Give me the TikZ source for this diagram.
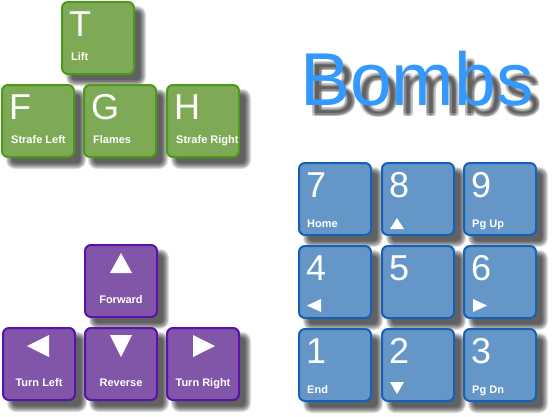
\documentclass[tikz,border=0pt]{standalone}
\usepackage{fontspec}
\setmainfont{Liberation Sans}
\usetikzlibrary{calc}
\definecolor{gfill}{HTML}{7FAA55}
\definecolor{gline}{HTML}{4C9A1A}
\definecolor{pfill}{HTML}{8155A8}
\definecolor{pline}{HTML}{5A12A8}
\definecolor{bfill}{HTML}{6496C8}
\definecolor{bline}{HTML}{1560B8}
\definecolor{bombblue}{HTML}{3399FF}
\tikzset{
 keybox/.style={draw, line width=2pt, rounded corners=6pt, minimum width=72pt, minimum height=72pt, inner sep=0pt, outer sep=0pt},
 gkey/.style={keybox, fill=gfill, draw=gline},
 pkey/.style={keybox, fill=pfill, draw=pline},
 bkey/.style={keybox, fill=bfill, draw=bline},
 bigl/.style={text=white, font=\fontsize{36}{36}\selectfont, anchor=base west, inner sep=0pt},
 smalll/.style={text=white, font=\bfseries\fontsize{11}{11}\selectfont, anchor=base west, inner sep=0pt},
 smallc/.style={smalll, anchor=base},
 tri/.style={fill=white, draw=none},
 bombtext/.style={font=\fontsize{75}{75}\selectfont, anchor=base west, inner sep=0pt},
}
\newcommand\shadowat[2]{%
 \foreach \e [evaluate=\e as \rr using 6+\e] in {3,2,1,0,-1,-2,-3}{
   \fill[black, fill opacity=0.13, rounded corners=\rr pt] (#1+8-\e, #2+8-\e) rectangle (#1+82+\e, #2+82+\e);
 }}
\newcommand\gkeyat[5]{%
 \shadowat{#2}{#3}
 \node[gkey] (#1) at (#2+37,#3+37) {};
 \node[bigl] (#1big) at (#2+8,#3+35) {#4};
 \node[smalll] (#1lab) at (#2+10,#3+59) {#5};
}
\newcommand\bkeyat[5]{%
 \shadowat{#2}{#3}
 \node[bkey] (#1) at (#2+37,#3+37) {};
 \node[bigl] (#1big) at (#2+8,#3+35) {#4};
 \node[smalll] (#1lab) at (#2+9,#3+65.5) {#5};
}
\newcommand\pkeyat[4]{%
 \shadowat{#2}{#3}
 \node[pkey] (#1) at (#2+37,#3+37) {};
 \node[smallc] (#1lab) at (#2+37,#3+59) {#4};
}
\begin{document}
\begin{tikzpicture}[x=1pt,y=-1pt]
\useasboundingbox (0,0) rectangle (552,416);
% green keys
\gkeyat{kT}{61}{1}{T}{Lift}
\gkeyat{kF}{1}{84}{F}{Strafe Left}
\gkeyat{kG}{83}{84}{G}{Flames}
\gkeyat{kH}{166}{84}{H}{Strafe Right}
% purple keys
\pkeyat{kFw}{84}{244}{Forward}
\fill[tri] (84+26,244+29) -- (84+37,244+9) -- (84+48,244+29) -- cycle;
\pkeyat{kTL}{2}{327}{Turn Left}
\fill[tri] (2+47,327+8) -- (2+25,327+19) -- (2+47,327+30) -- cycle;
\pkeyat{kRv}{84}{327}{Reverse}
\fill[tri] (84+26,327+8) -- (84+48,327+8) -- (84+37,327+30) -- cycle;
\pkeyat{kTR}{166}{327}{Turn Right}
\fill[tri] (166+27,327+8) -- (166+49,327+19) -- (166+27,327+30) -- cycle;
% blue keys
\bkeyat{k7}{298}{162}{7}{Home}
\bkeyat{k8}{381}{162}{8}{}
\fill[tri] (381+9,162+67) -- (381+16,162+56) -- (381+23,162+67) -- cycle;
\bkeyat{k9}{463}{162}{9}{Pg Up}
\bkeyat{k4}{298}{245}{4}{}
\fill[tri] (298+23,245+54) -- (298+9,245+60.5) -- (298+23,245+67) -- cycle;
\bkeyat{k5}{381}{245}{5}{}
\bkeyat{k6}{463}{245}{6}{}
\fill[tri] (463+10,245+54) -- (463+24,245+60.5) -- (463+10,245+67) -- cycle;
\bkeyat{k1}{298}{328}{1}{End}
\bkeyat{k2}{381}{328}{2}{}
\fill[tri] (381+9,328+54) -- (381+23,328+54) -- (381+16,328+66) -- cycle;
\bkeyat{k3}{463}{328}{3}{Pg Dn}
% Bombs title with blurred shadow
\foreach \dx in {-1.5,0,1.5}{
 \foreach \dy in {-1.5,0,1.5}{
  \node[bombtext, text=black, text opacity=0.1] at (308+\dx,115+\dy) {Bombs};
 }}
\node[bombtext, text=bombblue] (bombs) at (300,105) {Bombs};
\end{tikzpicture}
\end{document}
